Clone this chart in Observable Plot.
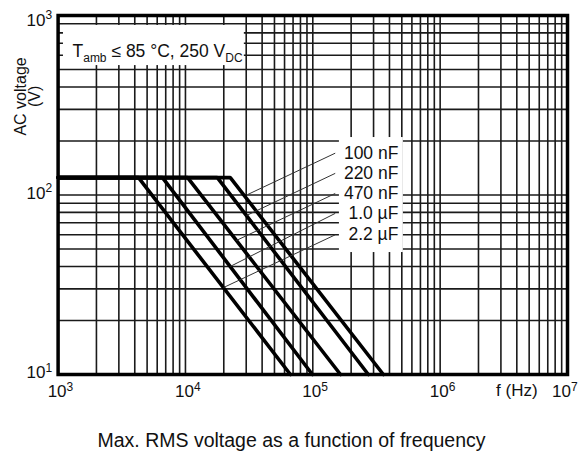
<!DOCTYPE html>
<html>
<head>
<meta charset="utf-8">
<script src="https://cdn.jsdelivr.net/npm/d3@7"></script>
<script src="https://cdn.jsdelivr.net/npm/@observablehq/plot@0.6"></script>
<style>
html, body { margin: 0; padding: 0; background: #fff; }
#chart svg { display: block; }
</style>
</head>
<body>
<div id="chart"></div>
<script>
// ---- data ----
const capacitance = ["100 nF", "220 nF", "470 nF", "1.0 µF", "2.2 µF"];
const flatVoltage = [125, 125, 125, 125, 125];        // V, plateau
const startFreq = [1000, 1000, 1000, 1000, 1000];      // Hz
const cornerFreq = [22500, 17800, 10400, 6600, 4280];  // Hz, end of plateau
const endFreq = [358000, 273000, 165000, 99300, 66700];// Hz, where 10 V is reached
const endVoltage = [10, 10, 10, 10, 10];               // V
const labelVoltage = [171, 132, 102, 79, 60];          // V, label rows
const leaderEndFreq = [30800, 30200, 25100, 22500, 19900];
const leaderEndVoltage = [100.6, 76.9, 55.8, 40.0, 30.5];

const xTicks = [1e3, 1e4, 1e5, 1e6, 1e7];
const xTickExponents = ["3", "4", "5", "6", "7"];
const yTicks = [10, 100, 1000];
const yTickExponents = ["1", "2", "3"];
const gridMultiples = [1, 2, 3, 4, 5, 6, 7, 8, 9];

const condText = "T_amb ≤ 85 °C, 250 V_DC";
const xTitle = "f (Hz)";
const yTitle = "AC voltage\n(V)";
const caption = "Max. RMS voltage as a function of frequency";

// ---- derived tables ----
const curves = capacitance.flatMap((c, i) => [
  {c, f: startFreq[i], v: flatVoltage[i]},
  {c, f: cornerFreq[i], v: flatVoltage[i]},
  {c, f: endFreq[i], v: endVoltage[i]}
]);
const leaders = capacitance.map((c, i) => ({
  c, f1: 150000, v1: labelVoltage[i], f2: leaderEndFreq[i], v2: leaderEndVoltage[i]
}));
const labels = capacitance.map((c, i) => ({c, f: 470000, v: labelVoltage[i]}));
const xGrid = xTicks.slice(0, -1).flatMap(d => gridMultiples.map(m => m * d)).concat([xTicks[xTicks.length - 1]]);
const yGrid = yTicks.slice(0, -1).flatMap(d => gridMultiples.map(m => m * d)).concat([yTicks[yTicks.length - 1]]);
const xt = xTicks.map((d, i) => ({d, e: xTickExponents[i]}));
const yt = yTicks.map((d, i) => ({d, e: yTickExponents[i]}));

const font = "'Liberation Sans', Arial, Helvetica, sans-serif";
const ink = "#111";

const chart = Plot.plot({
  width: 583,
  height: 461,
  marginLeft: 57.6,
  marginRight: 16,
  marginTop: 15,
  marginBottom: 87,
  x: {type: "log", domain: [1e3, 1e7], axis: null},
  y: {type: "log", domain: [10, 1000], axis: null},
  style: {fontFamily: font, background: "#fff", color: ink, overflow: "visible"},
  marks: [
    Plot.ruleX(xGrid, {stroke: "#1a1a1a", strokeWidth: 1.6}),
    Plot.ruleY(yGrid, {stroke: "#1a1a1a", strokeWidth: 1.6}),
    // white annotation boxes blanking the grid
    Plot.rect([{x1: 1102, x2: 29000, y1: 526, y2: 880}], {x1: "x1", x2: "x2", y1: "y1", y2: "y2", fill: "#fff"}),
    Plot.rect([{x1: 161800, x2: 514000, y1: 47.8, y2: 209}], {x1: "x1", x2: "x2", y1: "y1", y2: "y2", fill: "#fff"}),
    Plot.line(curves, {x: "f", y: "v", z: "c", stroke: "#000", strokeWidth: 3.6, strokeLinejoin: "miter"}),
    Plot.link(leaders, {x1: "f1", y1: "v1", x2: "f2", y2: "v2", stroke: "#333", strokeWidth: 1}),
    Plot.frame({stroke: "#000", strokeWidth: 3.5}),
    Plot.text(labels, {x: "f", y: "v", text: "c", textAnchor: "end", fontSize: 17.5, fill: ink}),
    // condition text (subscripts added after render)
    Plot.text([condText], {frameAnchor: "top-left", dx: 14.4, dy: 29.4, textAnchor: "start", fontSize: 17.5, fill: ink}),
    // x tick labels
    Plot.text(xt.slice(0, 4), {x: "d", text: () => "10", frameAnchor: "bottom", dy: 22, dx: -1, fontSize: 17, fill: ink}),
    Plot.text(xt.slice(0, 4), {x: "d", text: "e", frameAnchor: "bottom", dy: 16.5, dx: 8.5, fontSize: 12, textAnchor: "start", fill: ink}),
    Plot.text(xt.slice(4), {x: "d", text: () => "10", frameAnchor: "bottom", dy: 22, dx: -6, fontSize: 17, fill: ink}),
    Plot.text(xt.slice(4), {x: "d", text: "e", frameAnchor: "bottom", dy: 16.5, dx: 3.5, fontSize: 12, textAnchor: "start", fill: ink}),
    Plot.text([xTitle], {x: () => 4.0e6, frameAnchor: "bottom", dy: 21, fontSize: 17, fill: ink}),
    // y tick labels
    Plot.text(yt.slice(0, 2), {y: "d", text: () => "10", frameAnchor: "left", dx: -12.6, dy: -1.5, textAnchor: "end", fontSize: 17, fill: ink}),
    Plot.text(yt.slice(0, 2), {y: "d", text: "e", frameAnchor: "left", dx: -12.6, dy: -6.5, textAnchor: "start", fontSize: 12, fill: ink}),
    Plot.text(yt.slice(2), {y: "d", text: () => "10", frameAnchor: "left", dx: -12.6, dy: 4.6, textAnchor: "end", fontSize: 17, fill: ink}),
    Plot.text(yt.slice(2), {y: "d", text: "e", frameAnchor: "left", dx: -12.6, dy: -0.5, textAnchor: "start", fontSize: 12, fill: ink}),
    // y title
    Plot.text([yTitle], {y: () => 354, frameAnchor: "left", dx: -29.9, rotate: -90, textAnchor: "middle", fontSize: 16, lineHeight: 0.92, fill: ink}),
    // caption
    Plot.text([caption], {frameAnchor: "bottom", dy: 72.8, dx: -21.3, fontSize: 19.5, fill: ink})
  ]
});

// subscripts in condition text
const NS = "http://www.w3.org/2000/svg";
chart.querySelectorAll("text").forEach(t => {
  if (t.textContent === condText) {
    while (t.firstChild) t.removeChild(t.firstChild);
    const parts = [
      {s: "T"},
      {s: "amb", sub: true},
      {s: " ≤ 85 °C, 250 V", up: true},
      {s: "DC", sub: true}
    ];
    parts.forEach(p => {
      const ts = document.createElementNS(NS, "tspan");
      ts.textContent = p.s;
      if (p.sub) { ts.setAttribute("dy", "4.5"); ts.setAttribute("font-size", "12"); }
      if (p.up) ts.setAttribute("dy", "-4.5");
      t.appendChild(ts);
    });
  }
});

document.getElementById("chart").appendChild(chart);
</script>
</body>
</html>
